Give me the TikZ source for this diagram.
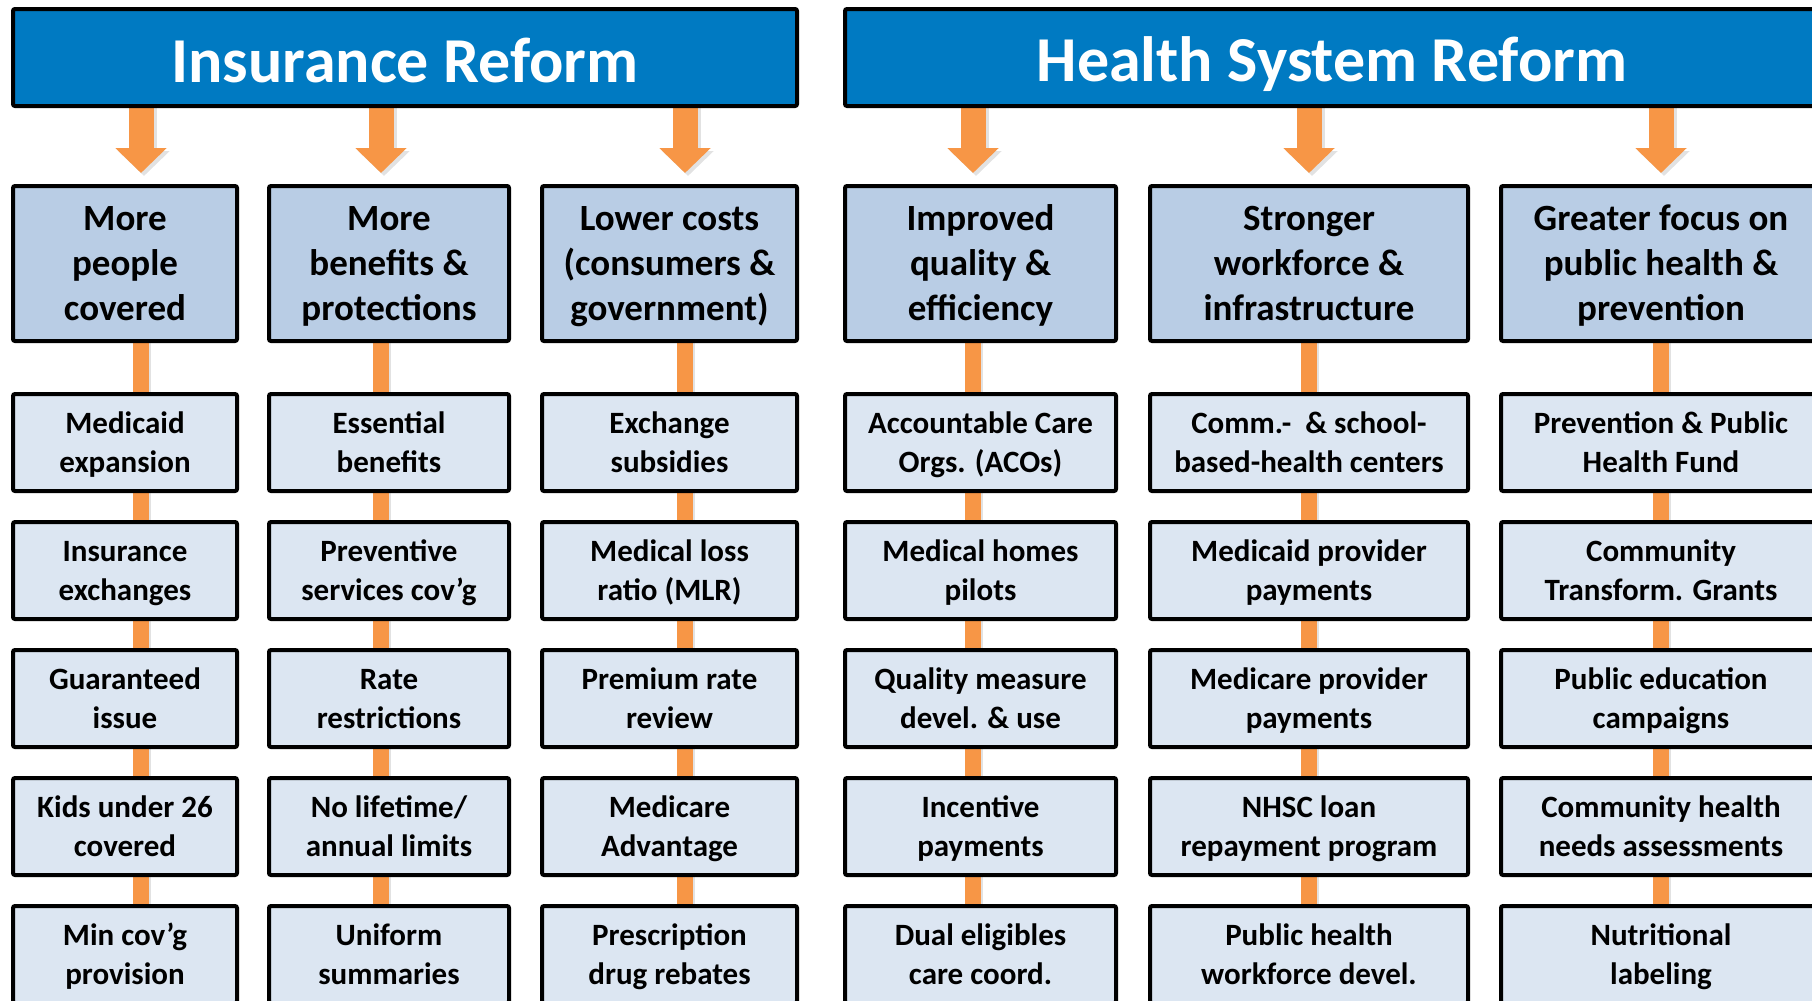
\documentclass[tikz,border=0pt]{standalone}
\usepackage{fontspec}
\setmainfont{Carlito}
\usetikzlibrary{arrows.meta,backgrounds,calc}
\definecolor{hdrblue}{RGB}{0,122,194}
\definecolor{catfill}{HTML}{B9CDE5}
\definecolor{itemfill}{HTML}{DCE6F2}
\definecolor{conn}{HTML}{F79646}
\definecolor{shade}{HTML}{E2E2E2}
\newcommand{\hstrut}{\rule[-10pt]{0pt}{69pt}}
\newcommand{\ctop}{\vrule width 0pt height 36pt depth 0pt}
\newcommand{\cbot}{\vrule width 0pt height 0pt depth 13pt}
\newcommand{\itop}{\vrule width 0pt height 31pt depth 0pt}
\newcommand{\ibot}{\vrule width 0pt height 0pt depth 10pt}
\tikzset{
  boxbase/.style={draw=black, line width=4pt, rounded corners=2pt, inner sep=0pt, align=center},
  hdr/.style={boxbase, fill=hdrblue, text=white, font=\fontsize{64}{70}\selectfont\bfseries, minimum height=97pt},
  catbox/.style={boxbase, fill=catfill, font=\fontsize{37}{45}\selectfont\bfseries, minimum height=155pt},
  itembox/.style={boxbase, fill=itemfill, font=\fontsize{31}{38.4}\selectfont\bfseries, minimum height=97pt},
  bigarrow/.style={draw=conn, line width=25pt, -{Triangle[width=50pt,length=25pt]}},
  bigshadow/.style={draw=shade, line width=25pt, -{Triangle[width=50pt,length=25pt]}},
  link/.style={draw=conn, line width=16pt},
  linkshadow/.style={draw=shade, line width=16pt},
}
\begin{document}
\begin{tikzpicture}[x=1pt,y=-1pt]
\useasboundingbox (0,0) rectangle (1812,1001);
\clip (0,0) rectangle (1812,1001);

% headers
\node[hdr, minimum width=784pt] (hA) at (405,57.5) {\hstrut Insurance Reform};
\node[hdr, minimum width=974pt] (hB) at (1332,57.5) {\hstrut Health System Reform};

% connector x positions
\coordinate (x1) at (141,0);
\coordinate (x2) at (381,0);
\coordinate (x3) at (685,0);
\coordinate (x4) at (973,0);
\coordinate (x5) at (1309,0);
\coordinate (x6) at (1661,0);

% category boxes
\node[catbox, minimum width=224pt] (k1) at (125,263.5) {\ctop More\\people\\covered\cbot};
\node[catbox, minimum width=240pt] (k2) at (389,263.5) {\ctop More\\benefits \&\\protections\cbot};
\node[catbox, minimum width=255pt] (k3) at (669.5,263.5) {\ctop Lower costs\\(consumers \&\\government)\cbot};
\node[catbox, minimum width=271pt] (k4) at (980.5,263.5) {\ctop Improved\\quality \&\\efficiency\cbot};
\node[catbox, minimum width=318pt] (k5) at (1309,263.5) {\ctop Stronger\\workforce \&\\infrastructure\cbot};
\node[catbox, minimum width=320pt] (k6) at (1661,263.5) {\ctop Greater focus on\\public health \&\\prevention\cbot};

% column 1
\node[itembox, minimum width=224pt] (b11) at (125,442.5) {\itop Medicaid\\expansion\ibot};
\node[itembox, minimum width=224pt] (b12) at (125,570.5) {\itop Insurance\\exchanges\ibot};
\node[itembox, minimum width=224pt] (b13) at (125,698.5) {\itop Guaranteed\\issue\ibot};
\node[itembox, minimum width=224pt] (b14) at (125,826.5) {\itop Kids under 26\\covered\ibot};
\node[itembox, minimum width=224pt] (b15) at (125,954.5) {\itop Min cov’g\\provision\ibot};
% column 2
\node[itembox, minimum width=240pt] (b21) at (389,442.5) {\itop Essential\\benefits\ibot};
\node[itembox, minimum width=240pt] (b22) at (389,570.5) {\itop Preventive\\services cov’g\ibot};
\node[itembox, minimum width=240pt] (b23) at (389,698.5) {\itop Rate\\restrictions\ibot};
\node[itembox, minimum width=240pt] (b24) at (389,826.5) {\itop No lifetime/\\annual limits\ibot};
\node[itembox, minimum width=240pt] (b25) at (389,954.5) {\itop Uniform\\summaries\ibot};
% column 3
\node[itembox, minimum width=255pt] (b31) at (669.5,442.5) {\itop Exchange\\subsidies\ibot};
\node[itembox, minimum width=255pt] (b32) at (669.5,570.5) {\itop Medical loss\\ratio (MLR)\ibot};
\node[itembox, minimum width=255pt] (b33) at (669.5,698.5) {\itop Premium rate\\review\ibot};
\node[itembox, minimum width=255pt] (b34) at (669.5,826.5) {\itop Medicare\\Advantage\ibot};
\node[itembox, minimum width=255pt] (b35) at (669.5,954.5) {\itop Prescription\\drug rebates\ibot};
% column 4
\node[itembox, minimum width=271pt] (b41) at (980.5,442.5) {\itop Accountable Care\\Orgs. (ACOs)\ibot};
\node[itembox, minimum width=271pt] (b42) at (980.5,570.5) {\itop Medical homes\\pilots\ibot};
\node[itembox, minimum width=271pt] (b43) at (980.5,698.5) {\itop Quality measure\\devel. \& use\ibot};
\node[itembox, minimum width=271pt] (b44) at (980.5,826.5) {\itop Incentive\\payments\ibot};
\node[itembox, minimum width=271pt] (b45) at (980.5,954.5) {\itop Dual eligibles\\care coord.\ibot};
% column 5
\node[itembox, minimum width=318pt] (b51) at (1309,442.5) {\itop Comm.-\ \ \& school-\\based-health centers\ibot};
\node[itembox, minimum width=318pt] (b52) at (1309,570.5) {\itop Medicaid provider\\payments\ibot};
\node[itembox, minimum width=318pt] (b53) at (1309,698.5) {\itop Medicare provider\\payments\ibot};
\node[itembox, minimum width=318pt] (b54) at (1309,826.5) {\itop NHSC loan\\repayment program\ibot};
\node[itembox, minimum width=318pt] (b55) at (1309,954.5) {\itop Public health\\workforce devel.\ibot};
% column 6
\node[itembox, minimum width=320pt] (b61) at (1661,442.5) {\itop Prevention \& Public\\Health Fund\ibot};
\node[itembox, minimum width=320pt] (b62) at (1661,570.5) {\itop Community\\Transform. Grants\ibot};
\node[itembox, minimum width=320pt] (b63) at (1661,698.5) {\itop Public education\\campaigns\ibot};
\node[itembox, minimum width=320pt] (b64) at (1661,826.5) {\itop Community health\\needs assessments\ibot};
\node[itembox, minimum width=320pt] (b65) at (1661,954.5) {\itop Nutritional\\labeling\ibot};

\begin{pgfonlayer}{background}
  % arrows from headers to category boxes
  \foreach \h/\k/\x in {hA/k1/x1, hA/k2/x2, hA/k3/x3, hB/k4/x4, hB/k5/x5, hB/k6/x6} {
    \draw[bigshadow] ($(\h.south -| \x)+(3,0)$) -- ($(\k.north -| \x)+(3,-8)$);
    \draw[bigarrow] (\h.south -| \x) -- ($(\k.north -| \x)+(0,-11)$);
  }
  % vertical links
  \foreach \c in {1,...,6} {
    \draw[linkshadow] ($(k\c.south -| x\c)+(2,0)$) -- ($(b\c1.north -| x\c)+(2,0)$);
    \draw[link] (k\c.south -| x\c) -- (b\c1.north -| x\c);
    \foreach \r/\s in {1/2,2/3,3/4,4/5} {
      \draw[linkshadow] ($(b\c\r.south -| x\c)+(2,0)$) -- ($(b\c\s.north -| x\c)+(2,0)$);
      \draw[link] (b\c\r.south -| x\c) -- (b\c\s.north -| x\c);
    }
  }
\end{pgfonlayer}
\end{tikzpicture}
\end{document}
